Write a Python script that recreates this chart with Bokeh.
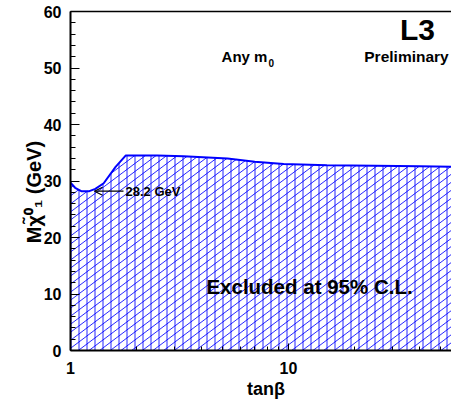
import numpy as np
from bokeh.plotting import figure
from bokeh.models import (Label, LinearAxis, FixedTicker, Range1d, Arrow, OpenHead,
                          PrintfTickFormatter)
from bokeh.embed import file_html
from bokeh.resources import INLINE

# data
tanb = [1.0, 1.05, 1.12, 1.22, 1.3, 1.42, 1.61, 1.79, 2.5, 3.3, 5.25, 7.0, 9.5, 15.0, 25.0, 40.0, 56.0]
mlim = [29.7, 28.8, 28.2, 28.2, 28.6, 29.6, 32.5, 34.5, 34.5, 34.4, 34.0, 33.4, 33.0, 32.8, 32.7, 32.6, 32.5]
y_ticks = [0, 10, 20, 30, 40, 50, 60]
x_ticks = [1, 10]
x_minor = [2, 3, 4, 5, 6, 7, 8, 9, 20, 30, 40, 50]
limit_value = 28.2

FONT = "Liberation Sans"
BLUE = "#0000ff"
NB = "\u00a0"

# frame geometry (pixels per decade / per GeV) used for text placement and hatch spacing
FL, FB, DEC, PXU = 70.0, 350.0, 218.0, 338.0 / 60.0
def dx(px):
    return 10 ** ((px - FL) / DEC)
def dy(py):
    return (FB - py) / PXU

p = figure(width=451, height=401, x_axis_type="log",
           x_range=Range1d(1, 10 ** (381 / DEC)), y_range=Range1d(0, 60),
           output_backend="svg", toolbar_location=None,
           min_border_left=70, min_border_right=0, min_border_top=11, min_border_bottom=20)
p.outline_line_color = None
p.grid.visible = False
p.background_fill_color = "white"

# ---- hatching of the excluded region (vertical + diagonal lines clipped to the region)
lx = np.log10(tanb)
my = np.array(mlim)
grid = np.linspace(0.0, lx[-1], 6000)
curve = np.interp(grid, lx, my)

V_SPACING = 8.0 / DEC          # decades between vertical hatch lines (8 px)
D_SPACING = 8.0 / PXU          # GeV between diagonal hatch lines (8 px)
SLOPE = 0.75 * DEC / PXU       # GeV per decade (3/4 pixel slope)

hx, hy = [], []
for v in np.arange(0.5 / DEC, lx[-1], V_SPACING):
    top_v = float(np.interp(v, lx, my))
    hx.append([10 ** v, 10 ** v])
    hy.append([0.0, top_v])

for c in np.arange(-SLOPE * lx[-1], my.max() + D_SPACING, D_SPACING):
    yl = c + SLOPE * grid
    inside = (yl >= 0) & (yl <= curve)
    if not inside.any():
        continue
    idx = np.flatnonzero(np.diff(np.concatenate(([0], inside.astype(int), [0]))))
    for a, b in zip(idx[::2], idx[1::2]):
        b = b - 1
        if b <= a:
            continue
        hx.append([10 ** grid[a], 10 ** grid[b]])
        hy.append([yl[a], yl[b]])

p.multi_line(hx, hy, line_color=BLUE, line_width=1, line_alpha=0.85)
p.line(tanb, mlim, line_color=BLUE, line_width=2)

# ---- axes
xa = p.xaxis[0]
xa.ticker = FixedTicker(ticks=x_ticks, minor_ticks=x_minor)
xa.formatter = PrintfTickFormatter(format="%d")
xa.major_tick_in = 7
xa.major_tick_out = 0
xa.minor_tick_in = 4
xa.minor_tick_out = 0
xa.axis_line_width = 2
xa.major_label_standoff = 11
xa.major_label_text_font = FONT
xa.major_label_text_font_style = "bold"
xa.major_label_text_font_size = "16px"
xa.major_label_text_color = "black"
xa.axis_label = NB * 2 + "tan\u03b2"
xa.axis_label_text_font = FONT
xa.axis_label_text_font_style = "bold"
xa.axis_label_text_font_size = "18px"
xa.axis_label_text_color = "black"
xa.axis_label_standoff = 2

ya = p.yaxis[0]
ya.ticker = FixedTicker(ticks=y_ticks, minor_ticks=list(range(0, 61, 2)))
ya.major_tick_in = 9
ya.major_tick_out = 0
ya.minor_tick_in = 5
ya.minor_tick_out = 0
ya.axis_line_width = 2
ya.major_label_standoff = 9
ya.major_label_text_font = FONT
ya.major_label_text_font_style = "bold"
ya.major_label_text_font_size = "16px"
ya.major_label_text_color = "black"
ya.axis_label = "M\u03c7\u0303\u2070\u2081 (GeV)" + NB * 4
ya.axis_label_text_font = FONT
ya.axis_label_text_font_style = "bold"
ya.axis_label_text_font_size = "20px"
ya.axis_label_text_color = "black"
ya.axis_label_standoff = -4

top = LinearAxis(ticker=FixedTicker(ticks=[]), major_tick_in=0, major_tick_out=0,
                 minor_tick_in=0, minor_tick_out=0, axis_line_width=1.5,
                 major_label_text_font_size="0px")
p.add_layout(top, "above")

def lab(text, px, py, size, align="center", base="middle", style="bold", font=FONT):
    p.add_layout(Label(x=dx(px), y=dy(py), text=text,
                       text_font=font, text_font_style=style, text_font_size=size,
                       text_align=align, text_baseline=base, text_color="black"))

# ---- annotations
lab("L3", 417, 30, "30px")
lab("Preliminary", 406, 57, "15.5px")
lab("Any m", 244, 57, "15px")
lab("0", 268, 63, "10px", align="left")
lab("Excluded at 95% C.L.", 309, 286, "20.5px")
p.add_layout(Label(x=dx(125), y=limit_value, text="28.2 GeV", text_font=FONT,
                   text_font_style="bold", text_font_size="13px",
                   text_align="left", text_baseline="middle", text_color="black"))
p.add_layout(Arrow(end=OpenHead(size=8, line_color="black", line_width=1.2),
                   x_start=dx(123), y_start=limit_value, x_end=dx(94), y_end=limit_value,
                   line_color="black", line_width=1.2))

open("out.html", "w").write(file_html(p, INLINE))
